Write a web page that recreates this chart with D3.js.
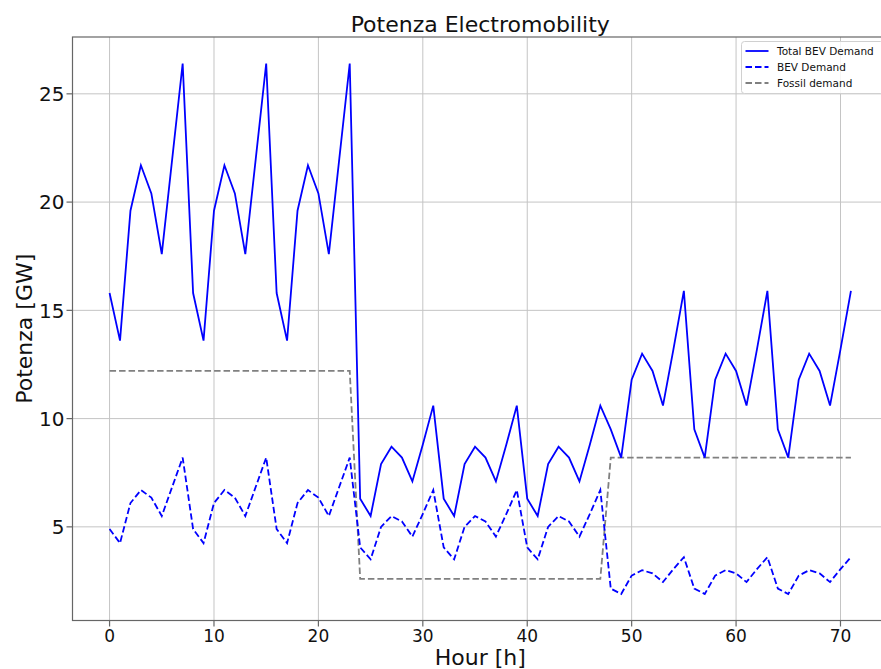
<!DOCTYPE html>
<html>
<head>
<meta charset="utf-8">
<script src="https://cdn.jsdelivr.net/npm/d3@7"></script>
<style>
  body { margin: 0; background: #fff; }
  svg { display: block; font-family: "DejaVu Sans", sans-serif; }
</style>
</head>
<body>
<svg id="chart"></svg>
<script>
// hourly values (GW)
var hours = d3.range(0, 72);

var totalBev = [
    15.8, 13.6, 19.6, 21.7, 20.4, 17.6, 22.0, 26.4,
    15.8, 13.6, 19.6, 21.7, 20.4, 17.6, 22.0, 26.4,
    15.8, 13.6, 19.6, 21.7, 20.4, 17.6, 22.0, 26.4,
    6.3, 5.5, 7.9, 8.7, 8.2, 7.1, 8.8, 10.6,
    6.3, 5.5, 7.9, 8.7, 8.2, 7.1, 8.8, 10.6,
    6.3, 5.5, 7.9, 8.7, 8.2, 7.1, 8.8, 10.6,
    9.5, 8.2, 11.8, 13.0, 12.2, 10.6, 13.2, 15.9,
    9.5, 8.2, 11.8, 13.0, 12.2, 10.6, 13.2, 15.9,
    9.5, 8.2, 11.8, 13.0, 12.2, 10.6, 13.2, 15.9
];

var bevDemand = [
    4.9, 4.25, 6.1, 6.7, 6.35, 5.5, 6.85, 8.2,
    4.9, 4.25, 6.1, 6.7, 6.35, 5.5, 6.85, 8.2,
    4.9, 4.25, 6.1, 6.7, 6.35, 5.5, 6.85, 8.2,
    4.05, 3.5, 5.0, 5.5, 5.25, 4.55, 5.6, 6.7,
    4.05, 3.5, 5.0, 5.5, 5.25, 4.55, 5.6, 6.7,
    4.05, 3.5, 5.0, 5.5, 5.25, 4.55, 5.6, 6.7,
    2.15, 1.9, 2.75, 3.0, 2.85, 2.45, 3.05, 3.6,
    2.15, 1.9, 2.75, 3.0, 2.85, 2.45, 3.05, 3.6,
    2.15, 1.9, 2.75, 3.0, 2.85, 2.45, 3.05, 3.6
];

var fossilDemand = [
    12.2, 12.2, 12.2, 12.2, 12.2, 12.2, 12.2, 12.2, 12.2, 12.2, 12.2, 12.2,
    12.2, 12.2, 12.2, 12.2, 12.2, 12.2, 12.2, 12.2, 12.2, 12.2, 12.2, 12.2,
    2.6, 2.6, 2.6, 2.6, 2.6, 2.6, 2.6, 2.6, 2.6, 2.6, 2.6, 2.6,
    2.6, 2.6, 2.6, 2.6, 2.6, 2.6, 2.6, 2.6, 2.6, 2.6, 2.6, 2.6,
    8.2, 8.2, 8.2, 8.2, 8.2, 8.2, 8.2, 8.2, 8.2, 8.2, 8.2, 8.2,
    8.2, 8.2, 8.2, 8.2, 8.2, 8.2, 8.2, 8.2, 8.2, 8.2, 8.2, 8.2
];

var xTicks = [0, 10, 20, 30, 40, 50, 60, 70];
var yTicks = [5, 10, 15, 20, 25];

var seriesNames = ['Total BEV Demand', 'BEV Demand', 'Fossil demand'];

var W = 881, H = 669;
var plot = { left: 72.5, right: 888, top: 37, bottom: 620.5 };

const svg = d3.select('#chart').attr('width', W).attr('height', H);

// matplotlib style 5% padding around the data
var allVals = totalBev.concat(bevDemand, fossilDemand);
var ymin = d3.min(allVals), ymax = d3.max(allVals);
var ypad = (ymax - ymin) * 0.05;
var xpad = (d3.max(hours) - d3.min(hours)) * 0.05;

var xs = d3.scaleLinear().domain([d3.min(hours) - xpad, d3.max(hours) + xpad]).range([plot.left, plot.right]);
var ys = d3.scaleLinear().domain([ymin - ypad, ymax + ypad]).range([plot.bottom, plot.top]);

// grid
svg.append('g').selectAll('line').data(xTicks).enter().append('line')
    .attr('x1', d => xs(d)).attr('x2', d => xs(d))
    .attr('y1', plot.top).attr('y2', plot.bottom)
    .attr('stroke', '#c4c4c4').attr('stroke-width', 1);
svg.append('g').selectAll('line').data(yTicks).enter().append('line')
    .attr('x1', plot.left).attr('x2', plot.right)
    .attr('y1', d => ys(d)).attr('y2', d => ys(d))
    .attr('stroke', '#c4c4c4').attr('stroke-width', 1);

// lines
var line = d3.line().x((d, i) => xs(hours[i])).y(d => ys(d));

svg.append('path').datum(fossilDemand)
    .attr('d', line).attr('fill', 'none')
    .attr('stroke', '#808080').attr('stroke-width', 1.8)
    .attr('stroke-dasharray', '6.5,3');

svg.append('path').datum(bevDemand)
    .attr('d', line).attr('fill', 'none')
    .attr('stroke', '#0000ff').attr('stroke-width', 1.8)
    .attr('stroke-dasharray', '6.5,3');

svg.append('path').datum(totalBev)
    .attr('d', line).attr('fill', 'none')
    .attr('stroke', '#0000ff').attr('stroke-width', 1.8);

// spines
svg.append('rect')
    .attr('x', plot.left).attr('y', plot.top)
    .attr('width', plot.right - plot.left).attr('height', plot.bottom - plot.top)
    .attr('fill', 'none').attr('stroke', '#666').attr('stroke-width', 1.2);

// x ticks
const xt = svg.append('g').selectAll('g').data(xTicks).enter().append('g')
    .attr('transform', d => `translate(${xs(d)},${plot.bottom})`);
xt.append('line').attr('y2', 6).attr('stroke', '#666').attr('stroke-width', 1.2);
xt.append('text')
    .attr('y', 21).attr('text-anchor', 'middle')
    .attr('font-size', 17).attr('fill', '#111')
    .text(d => d);

// y ticks
const yt = svg.append('g').selectAll('g').data(yTicks).enter().append('g')
    .attr('transform', d => `translate(${plot.left},${ys(d)})`);
yt.append('line').attr('x2', -6).attr('stroke', '#666').attr('stroke-width', 1.2);
yt.append('text')
    .attr('x', -8).attr('dy', '0.36em').attr('text-anchor', 'end')
    .attr('font-size', 20).attr('fill', '#111')
    .text(d => d);

// labels
svg.append('text')
    .attr('x', (plot.left + plot.right) / 2).attr('y', 32)
    .attr('text-anchor', 'middle').attr('font-size', 22).attr('fill', '#111')
    .text('Potenza Electromobility');

svg.append('text')
    .attr('x', (plot.left + plot.right) / 2).attr('y', 665)
    .attr('text-anchor', 'middle').attr('font-size', 22).attr('fill', '#111')
    .text('Hour [h]');

svg.append('text')
    .attr('transform', `translate(32,${(plot.top + plot.bottom) / 2}) rotate(-90)`)
    .attr('text-anchor', 'middle').attr('font-size', 22).attr('fill', '#111')
    .text('Potenza [GW]');

// legend
const lg = svg.append('g').attr('transform', 'translate(741.5,41.5)');
lg.append('rect')
    .attr('width', 142).attr('height', 52).attr('rx', 3)
    .attr('fill', 'white').attr('fill-opacity', 0.85)
    .attr('stroke', '#d0d0d0').attr('stroke-width', 1);

var legendStyle = [
    { color: '#0000ff', dash: null },
    { color: '#0000ff', dash: '6.5,3' },
    { color: '#808080', dash: '6.5,3' }
];

const items = lg.selectAll('.legend').data(seriesNames).enter().append('g')
    .attr('class', 'legend')
    .attr('transform', (d, i) => `translate(0,${9.5 + i * 16})`);
items.append('line')
    .attr('x1', 4).attr('x2', 27)
    .attr('stroke', (d, i) => legendStyle[i].color)
    .attr('stroke-width', 1.8)
    .attr('stroke-dasharray', (d, i) => legendStyle[i].dash);
items.append('text')
    .attr('x', 35.5).attr('dy', '0.36em')
    .attr('font-size', 10.5).attr('fill', '#111')
    .text(d => d);
</script>
</body>
</html>
